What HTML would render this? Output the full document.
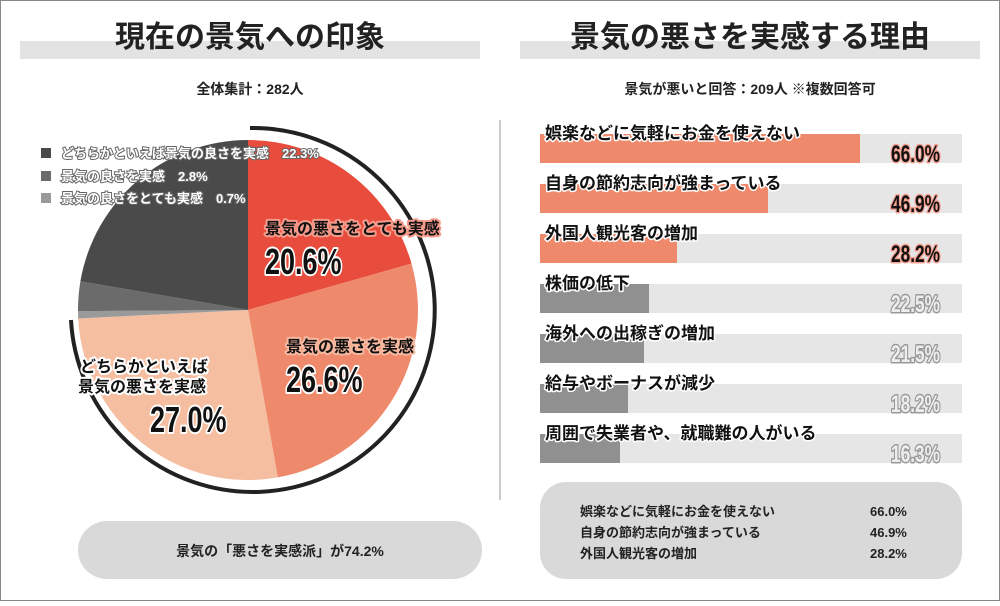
<!DOCTYPE html>
<html><head><meta charset="utf-8"><style>
body{margin:0;background:#fff}
svg text{font-family:"Liberation Sans","Noto Sans CJK JP",sans-serif}
</style></head><body>
<svg width="1000" height="601" viewBox="0 0 1000 601" xmlns="http://www.w3.org/2000/svg">
<rect x="0.5" y="0.5" width="999" height="600" fill="#fff" stroke="#888"/>
<rect x="20" y="41" width="460" height="18" fill="#e3e3e3"/>
<rect x="520" y="41" width="460" height="18" fill="#e3e3e3"/>
<text x="250" y="47" font-size="30" font-weight="bold" text-anchor="middle" fill="#222">現在の景気への印象</text>
<text x="750" y="47" font-size="30" font-weight="bold" text-anchor="middle" fill="#222">景気の悪さを実感する理由</text>
<text x="250" y="94" font-size="14" font-weight="bold" text-anchor="middle" fill="#222">全体集計：282人</text>
<text x="750" y="94" font-size="14" font-weight="bold" text-anchor="middle" fill="#222">景気が悪いと回答：209人 ※複数回答可</text>
<line x1="500" y1="120" x2="500" y2="500" stroke="#ccc" stroke-width="2"/>
<g>
<path d="M248,310 L248,140 A170,170 0 0 1 411.5,263.6Z" fill="#e84c3d"/>
<path d="M248,310 L411.5,263.6 A170,170 0 0 1 277.8,477.4Z" fill="#ee8a6b"/>
<path d="M248,310 L277.8,477.4 A170,170 0 0 1 78.2,318.5Z" fill="#f5bea0"/>
<path d="M248,310 L78.2,318.5 A170,170 0 0 1 78,311.1Z" fill="#9a9a9a"/>
<path d="M248,310 L78,311.1 A170,170 0 0 1 80.4,281.3Z" fill="#6b6b6b"/>
<path d="M248,310 L80.4,281.3 A170,170 0 0 1 248,140Z" fill="#4a4a4a"/>
<path d="M250,128 A182,182 0 1 1 71,320" fill="none" stroke="#222" stroke-width="4"/>
</g>
<g font-weight="bold" font-size="13" fill="#fff" stroke="#666" stroke-width="2" paint-order="stroke">
<rect x="41" y="148" width="10" height="10" fill="#4a4a4a" stroke="none"/>
<text x="61" y="158">どちらかといえば景気の良さを実感　22.3%</text>
<rect x="41" y="171" width="10" height="10" fill="#6b6b6b" stroke="none"/>
<text x="61" y="181">景気の良さを実感　2.8%</text>
<rect x="41" y="193" width="10" height="10" fill="#9a9a9a" stroke="none"/>
<text x="61" y="203">景気の良さをとても実感　0.7%</text>
</g>
<g font-weight="bold" fill="#111" stroke="#fff" stroke-width="4" paint-order="stroke" stroke-linejoin="round">
<text x="265" y="234" font-size="16" stroke="#f39a8a">景気の悪さをとても実感</text>
<text x="265" y="274" font-size="36" transform="translate(265,0) scale(0.75,1) translate(-265,0)">20.6%</text>
<text x="286" y="352" font-size="16" stroke="#f8b8a0">景気の悪さを実感</text>
<text x="286" y="392" font-size="36" transform="translate(286,0) scale(0.75,1) translate(-286,0)">26.6%</text>
<text x="80" y="372" font-size="16">どちらかといえば</text>
<text x="78" y="392" font-size="16">景気の悪さを実感</text>
<text x="150" y="432" font-size="36" transform="translate(150,0) scale(0.75,1) translate(-150,0)">27.0%</text>
</g>
<rect x="78" y="521" width="404" height="58" rx="29" fill="#d9d9d9"/>
<text x="280" y="556" font-size="14" font-weight="bold" text-anchor="middle" fill="#222">景気の「悪さを実感派」が74.2%</text>
<g>
<rect x="540" y="134" width="422" height="29" fill="#e6e6e6"/><rect x="540" y="134" width="320" height="29" fill="#ee8a6b"/>
<rect x="540" y="184" width="422" height="29" fill="#e6e6e6"/><rect x="540" y="184" width="228" height="29" fill="#ee8a6b"/>
<rect x="540" y="234" width="422" height="29" fill="#e6e6e6"/><rect x="540" y="234" width="137" height="29" fill="#ee8a6b"/>
<rect x="540" y="284" width="422" height="29" fill="#e6e6e6"/><rect x="540" y="284" width="109" height="29" fill="#909090"/>
<rect x="540" y="334" width="422" height="29" fill="#e6e6e6"/><rect x="540" y="334" width="104" height="29" fill="#909090"/>
<rect x="540" y="384" width="422" height="29" fill="#e6e6e6"/><rect x="540" y="384" width="88" height="29" fill="#909090"/>
<rect x="540" y="434" width="422" height="29" fill="#e6e6e6"/><rect x="540" y="434" width="80" height="29" fill="#909090"/>
</g>
<g font-size="17" font-weight="bold" fill="#111" stroke="#fff" stroke-width="3" paint-order="stroke" stroke-linejoin="round">
<text x="545" y="139">娯楽などに気軽にお金を使えない</text>
<text x="545" y="189">自身の節約志向が強まっている</text>
<text x="545" y="239">外国人観光客の増加</text>
<text x="545" y="289">株価の低下</text>
<text x="545" y="339">海外への出稼ぎの増加</text>
<text x="545" y="389">給与やボーナスが減少</text>
<text x="545" y="439">周囲で失業者や、就職難の人がいる</text>
</g>
<g font-size="24" font-weight="bold" text-anchor="end" stroke-width="3" paint-order="stroke" stroke-linejoin="round" transform="translate(940,0) scale(0.72,1) translate(-940,0)">
<text x="940" y="162" fill="#111" stroke="#f5a090">66.0%</text>
<text x="940" y="212" fill="#111" stroke="#f5a090">46.9%</text>
<text x="940" y="262" fill="#111" stroke="#f5a090">28.2%</text>
<text x="940" y="312" fill="#eee" stroke="#999">22.5%</text>
<text x="940" y="362" fill="#eee" stroke="#999">21.5%</text>
<text x="940" y="412" fill="#eee" stroke="#999">18.2%</text>
<text x="940" y="462" fill="#eee" stroke="#999">16.3%</text>
</g>
<rect x="540" y="482" width="422" height="97" rx="26" fill="#d9d9d9"/>
<g font-size="13" font-weight="bold" fill="#222">
<text x="580" y="516">娯楽などに気軽にお金を使えない</text><text x="870" y="516">66.0%</text>
<text x="580" y="537">自身の節約志向が強まっている</text><text x="870" y="537">46.9%</text>
<text x="580" y="558">外国人観光客の増加</text><text x="870" y="558">28.2%</text>
</g>
</svg>
</body></html>
